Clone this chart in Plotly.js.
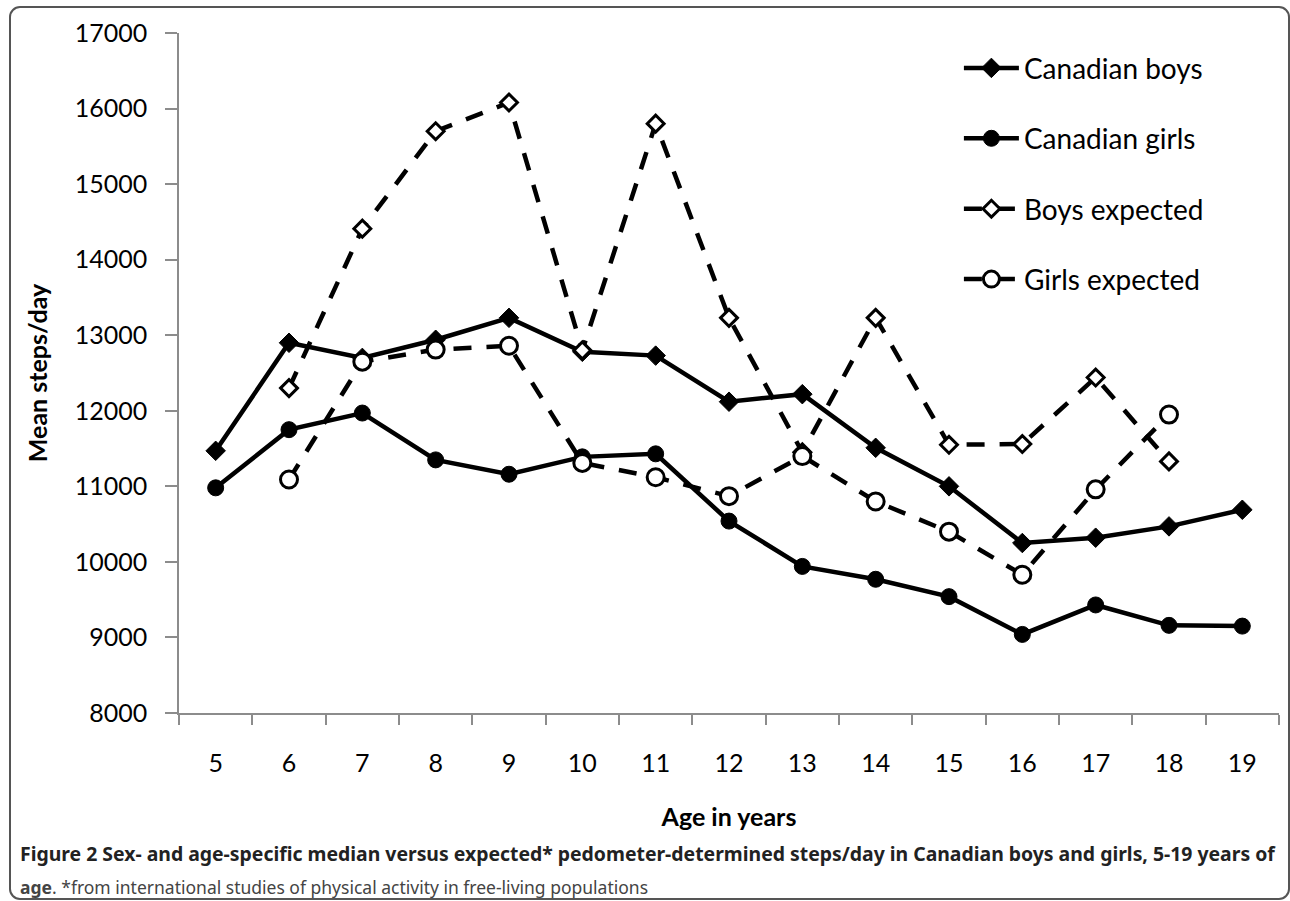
<!DOCTYPE html>
<html>
<head>
<meta charset="utf-8">
<script src="https://cdn.plot.ly/plotly-3.0.1.min.js"></script>
<style>
  html, body { margin: 0; padding: 0; background: #fff; }
  #wrap { position: relative; width: 1290px; height: 901px; overflow: hidden; }
  #chart { position: absolute; left: 0; top: 0; width: 1290px; height: 901px; }
  #frame { position: absolute; left: 9px; top: 6px; width: 1281px; height: 894px; box-sizing: border-box;
           border: 2px solid #555; border-radius: 11px; pointer-events: none; }
</style>
</head>
<body>
<div id="wrap">
  <div id="chart"></div>
  <div id="frame"></div>
</div>
<script>
// ---- data ----
const ages = ['5','6','7','8','9','10','11','12','13','14','15','16','17','18','19'];
const canadianBoys  = [11470, 12900, 12700, 12940, 13230, 12780, 12730, 12120, 12220, 11510, 11000, 10250, 10320, 10470, 10690];
const canadianGirls = [10980, 11750, 11970, 11350, 11160, 11390, 11430, 10540, 9940, 9770, 9540, 9040, 9430, 9160, 9150];
const boysExpected  = [null, 12300, 14410, 15700, 16080, 12800, 15800, 13230, 11450, 13230, 11550, 11560, 12440, 11330, null];
const girlsExpected = [null, 11090, 12650, 12810, 12860, 11310, 11120, 10870, 11400, 10800, 10400, 9830, 10960, 11950, null];
const seriesNames = ['Canadian boys', 'Canadian girls', 'Boys expected', 'Girls expected'];
const yTicks = [8000, 9000, 10000, 11000, 12000, 13000, 14000, 15000, 16000, 17000];

const font = 'Lato, "Open Sans", sans-serif';

const traces = [
  { x: ages, y: canadianBoys, name: seriesNames[0], legendgroup: 'a', type: 'scatter', mode: 'lines+markers',
    line: { color: '#000', width: 4.5 },
    marker: { symbol: 'diamond', size: 15, color: '#000', line: { color: '#000', width: 1 } } },
  { x: ages, y: canadianGirls, name: seriesNames[1], legendgroup: 'b', type: 'scatter', mode: 'lines+markers',
    line: { color: '#000', width: 4.5 },
    marker: { symbol: 'circle', size: 16, color: '#000', line: { color: '#000', width: 1 } } },
  { x: ages, y: boysExpected, name: seriesNames[2], legendgroup: 'c', type: 'scatter', mode: 'lines+markers',
    connectgaps: false,
    line: { color: '#000', width: 4.5, dash: '18px,15px' },
    marker: { symbol: 'diamond', size: 13, color: '#fff', line: { color: '#000', width: 3 } } },
  { x: ages, y: girlsExpected, name: seriesNames[3], legendgroup: 'd', type: 'scatter', mode: 'lines+markers',
    connectgaps: false,
    line: { color: '#000', width: 4.5, dash: '18px,15px' },
    marker: { symbol: 'circle', size: 17, color: '#fff', line: { color: '#000', width: 3 } } }
];

const layout = {
  width: 1290, height: 901,
  margin: { l: 179, r: 11, t: 33, b: 188 },
  paper_bgcolor: 'rgba(0,0,0,0)',
  plot_bgcolor: 'rgba(0,0,0,0)',
  font: { family: font, color: '#000' },
  showlegend: true,
  legend: {
    x: 0.709, xanchor: 'left', y: 0.985, yanchor: 'top',
    font: { family: font, size: 28, color: '#000' },
    itemwidth: 55,
    tracegroupgap: 31, bgcolor: 'rgba(0,0,0,0)'
  },
  xaxis: {
    type: 'category', range: [-0.5, 14.5],
    showline: true, linecolor: '#8c8c8c', linewidth: 1.5,
    ticks: 'outside', tickson: 'boundaries', ticklen: 10, tickcolor: '#8c8c8c', tickwidth: 1.5,
    tickfont: { family: font, size: 25, color: '#000' },
    ticklabelstandoff: 27,
    showgrid: false, zeroline: false,
    title: { text: 'Age in years', font: { family: font, size: 25, color: '#000', weight: 'bold' }, standoff: 33 }
  },
  yaxis: {
    range: [8000, 17000], tickvals: yTicks, ticktext: yTicks.map(String),
    showline: true, linecolor: '#8c8c8c', linewidth: 1.5,
    ticks: 'outside', ticklen: 12, tickcolor: '#8c8c8c', tickwidth: 1.5,
    tickfont: { family: font, size: 25, color: '#000' },
    ticklabelstandoff: 13,
    showgrid: false, zeroline: false,
    title: { text: 'Mean steps/day', font: { family: font, size: 25, color: '#000', weight: 'bold' }, standoff: 20 }
  },
  annotations: [
    { xref: 'paper', yref: 'paper', x: -0.1465, y: -0.206, xanchor: 'left', yanchor: 'middle', showarrow: false,
      text: '<b>Figure 2 Sex- and age-specific median versus expected* pedometer-determined steps/day in Canadian boys and girls, 5-19 years of</b>',
      font: { family: '"Noto Sans", sans-serif', size: 19.4, color: '#222' } },
    { xref: 'paper', yref: 'paper', x: -0.1465, y: -0.2555, xanchor: 'left', yanchor: 'middle', showarrow: false,
      text: '<b>age</b>. *from international studies of physical activity in free-living populations',
      font: { family: '"Noto Sans", sans-serif', size: 17.5, color: '#444' } }
  ]
};

Plotly.newPlot('chart', traces, layout, { displayModeBar: false, responsive: false });
</script>
</body>
</html>
